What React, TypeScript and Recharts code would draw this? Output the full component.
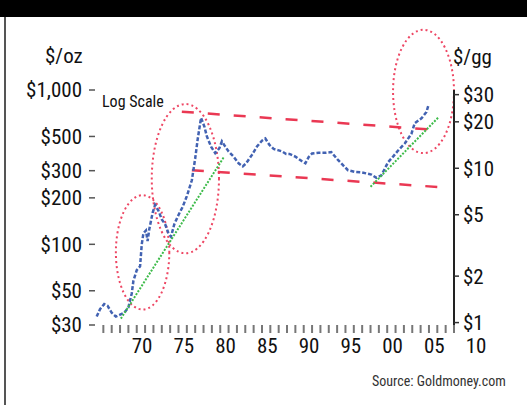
import { LineChart, Line, XAxis, YAxis, ReferenceArea } from "recharts";

const FONT = '"Liberation Sans Narrow", "Arial Narrow", "Roboto Condensed", "Liberation Sans", sans-serif';

// gold price, $/oz
const years = [
  1967.2, 1967.6, 1968.1, 1968.5, 1969.0, 1969.5, 1970.0, 1970.5, 1971.0, 1971.4,
  1971.6, 1972.0, 1972.4, 1972.6, 1972.8, 1973.1, 1973.3, 1973.5, 1973.9, 1974.2,
  1974.6, 1975.0, 1975.4, 1975.8, 1976.1, 1976.5, 1977.0, 1977.5, 1978.0, 1978.6,
  1979.0, 1979.3, 1979.7, 1980.1, 1980.4, 1980.9, 1981.4, 1981.9, 1982.2, 1982.6,
  1983.0, 1983.6, 1984.2, 1984.7, 1985.1, 1985.8, 1986.4, 1987.0, 1987.4, 1987.9,
  1988.4, 1988.9, 1989.4, 1989.9, 1990.3, 1991.0, 1991.8, 1992.2, 1992.6, 1993.0,
  1993.8, 1994.6, 1995.3, 1996.1, 1996.7, 1997.3, 1998.1, 1998.9, 1999.5, 2000.1,
  2000.7, 2001.3, 2002.1, 2002.7, 2003.3, 2004.1, 2004.9, 2005.3, 2006.1, 2006.7,
  2006.95,
];
const prices = [
  34, 38, 41, 40, 36, 34, 35, 36, 39, 48,
  58, 68, 72, 100, 118, 123, 105, 125, 160, 180,
  165, 145, 135, 118, 112, 135, 155, 175, 205, 260,
  360, 480, 660, 580, 500, 430, 390, 420, 465, 430,
  400, 370, 335, 320, 335, 380, 430, 470, 485, 440,
  415, 408, 400, 385, 385, 370, 345, 335, 368, 388,
  392, 392, 396, 352, 326, 302, 295, 293, 288, 283,
  270, 280, 340, 370, 405, 450, 520, 610, 655, 720,
  800,
];

// green trend lines
const trendEarlyYears = [1970.1, 1982.4];
const trendEarlyPrices = [33, 365];
const trendLateYears = [2000.0, 2008.2];
const trendLatePrices = [236, 670];

// red dashed channel
const channelTopYears = [1977.4, 2008.1];
const channelTopPrices = [723, 550];
const channelBottomYears = [1978.6, 2009.2];
const channelBottomPrices = [302, 233];

// circled periods: [from year, to year], [low $, high $]
const circleYears = [[1969.5, 1975.9], [1973.8, 1981.85], [2002.7, 2010]];
const circlePrices = [[37.8, 208], [87.5, 811], [390, 2455]];

const ozTicks = [30, 50, 100, 200, 300, 500, 1000];
const ggTicks = [1, 2, 5, 10, 20, 30];
const yearTicks = Array.from({ length: 43 }, (_, i) => 1968 + i);

const OZ_PER_GRAM = 31.1;

const zip = (xs: number[], ys: number[]) => xs.map((year, i) => ({ year, price: ys[i] }));

const goldData = zip(years, prices);

const Oval = (props: any) => {
  const { x, y, width, height } = props;
  return (
    <ellipse
      cx={x + width / 2}
      cy={y + height / 2}
      rx={Math.abs(width) / 2}
      ry={Math.abs(height) / 2}
      fill="none"
      stroke="#ee4764"
      strokeWidth={2}
      strokeDasharray="2 3"
    />
  );
};

// tick mark every year, label every 5 years (labels sit a bit right of their mark, as in the print)
const YearTick = (props: any) => {
  const { x, y, payload } = props;
  const v = payload.value as number;
  return (
    <g>
      <line x1={x} x2={x} y1={y - 13} y2={y - 5} stroke="#777" strokeWidth={2} />
      {v % 5 === 0 && (
        <text x={x + 22} y={y} dy="0.71em" textAnchor="middle" fill="#111" fontSize={21} fontFamily={FONT}>
          {String(v % 100).padStart(2, "0")}
        </text>
      )}
    </g>
  );
};

const text = (style: React.CSSProperties) => ({
  position: "absolute" as const,
  fontFamily: FONT,
  lineHeight: 1,
  whiteSpace: "nowrap" as const,
  color: "#111",
  ...style,
});

export default function App() {
  return (
    <div style={{ position: "absolute", left: 0, top: 0, width: 527, height: 405, background: "#fff", overflow: "hidden" }}>
      <div style={{ position: "absolute", left: 0, top: 0, width: 527, height: 17, background: "#000" }} />
      <div style={{ position: "absolute", left: 4, top: 17, width: 2, height: 388, background: "#555" }} />

      <LineChart width={527} height={405} data={goldData} margin={{ top: 90, right: 0, bottom: 50, left: 0 }}>
        <XAxis
          type="number"
          dataKey="year"
          domain={[1967, 2010]}
          ticks={yearTicks}
          interval={0}
          axisLine={false}
          tickLine={false}
          tickSize={8}
          tickMargin={5}
          height={30}
          tick={YearTick}
        />
        <YAxis
          yAxisId="left"
          scale="log"
          domain={[30, 1000]}
          allowDataOverflow
          ticks={ozTicks}
          interval={0}
          width={95}
          axisLine={false}
          tickLine={{ stroke: "#555", strokeWidth: 1.5 }}
          tickSize={6}
          tickMargin={7}
          tick={{ fill: "#111", fontSize: 21, fontFamily: FONT }}
          tickFormatter={(v: number) => (v === 1000 ? "$1,000" : `$${v}`)}
        />
        <YAxis
          yAxisId="right"
          orientation="right"
          scale="log"
          domain={[30 / OZ_PER_GRAM, 1000 / OZ_PER_GRAM]}
          allowDataOverflow
          ticks={ggTicks}
          interval={0}
          width={73}
          axisLine={{ stroke: "#222", strokeWidth: 2 }}
          tickLine={{ stroke: "#333", strokeWidth: 1.5 }}
          tickSize={5}
          tickMargin={4}
          tick={{ fill: "#111", fontSize: 21, fontFamily: FONT }}
          tickFormatter={(v: number) => `$${v}`}
        />

        {circleYears.map((xr, i) => (
          <ReferenceArea
            key={i}
            yAxisId="left"
            x1={xr[0]}
            x2={xr[1]}
            y1={circlePrices[i][0]}
            y2={circlePrices[i][1]}
            ifOverflow="visible"
            shape={Oval}
          />
        ))}

        <Line
          yAxisId="left"
          data={zip(channelTopYears, channelTopPrices)}
          dataKey="price"
          stroke="#ea3853"
          strokeWidth={2.5}
          strokeDasharray="12 14"
          dot={false}
          isAnimationActive={false}
        />
        <Line
          yAxisId="left"
          data={zip(channelBottomYears, channelBottomPrices)}
          dataKey="price"
          stroke="#ea3853"
          strokeWidth={2.5}
          strokeDasharray="12 14"
          dot={false}
          isAnimationActive={false}
        />
        <Line
          yAxisId="left"
          dataKey="price"
          stroke="#4262b2"
          strokeWidth={2.5}
          strokeDasharray="4 2"
          dot={false}
          isAnimationActive={false}
        />
        <Line
          yAxisId="left"
          data={zip(trendEarlyYears, trendEarlyPrices)}
          dataKey="price"
          stroke="#3dbb4a"
          strokeWidth={2}
          strokeDasharray="2 1.5"
          dot={false}
          isAnimationActive={false}
        />
        <Line
          yAxisId="left"
          data={zip(trendLateYears, trendLatePrices)}
          dataKey="price"
          stroke="#3dbb4a"
          strokeWidth={2}
          strokeDasharray="2 1.5"
          dot={false}
          isAnimationActive={false}
        />
      </LineChart>

      <div style={text({ left: 45, top: 46, fontSize: 21 })}>$/oz</div>
      <div style={text({ left: 453, top: 47, fontSize: 21 })}>$/gg</div>
      <div style={text({ left: 102, top: 94, fontSize: 16 })}>Log Scale</div>
      <div style={text({ left: 372, top: 374, fontSize: 14, color: "#333" })}>Source: Goldmoney.com</div>
    </div>
  );
}
